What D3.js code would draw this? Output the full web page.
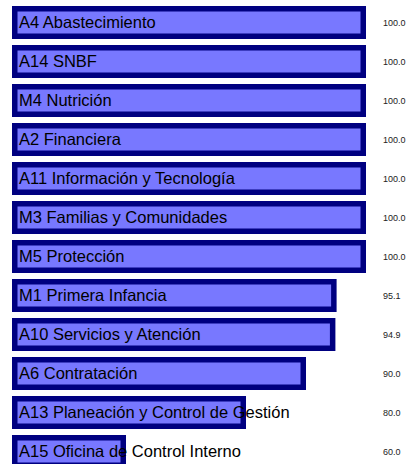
<!DOCTYPE html>
<html>
<head>
<meta charset="utf-8" />
<title>Cumplimiento por área</title>
<script src="https://d3js.org/d3.v7.min.js"></script>
<style>
html, body { margin: 0; padding: 0; background: #fff; }
svg { display: block; }
text { font-family: "Liberation Sans", Arial, sans-serif; }
</style>
</head>
<body>
<script>
let areas = ['A4 Abastecimiento', 'A14 SNBF', 'M4 Nutrición', 'A2 Financiera',
    'A11 Información y Tecnología', 'M3 Familias y Comunidades', 'M5 Protección',
    'M1 Primera Infancia', 'A10 Servicios y Atención', 'A6 Contratación',
    'A13 Planeación y Control de Gestión', 'A15 Oficina de Control Interno'];
let values = [100.0, 100.0, 100.0, 100.0, 100.0, 100.0, 100.0, 95.1, 94.9, 90.0, 80.0, 60.0];

let width = 407, height = 464;
let sw = 5.5; // border of the bars

let svg = d3.select('body').append('svg').attr('width', width).attr('height', height);

let x = d3.scaleLinear().domain([41, 100]).range([12, 366]);
let y = d3.scaleBand().domain(areas).range([6, 468]).paddingInner(6 / 39).paddingOuter(0);

let rows = svg.selectAll('g.row').data(areas).enter().append('g').attr('class', 'row')
    .attr('transform', d => 'translate(0,' + y(d) + ')');

rows.append('rect')
    .attr('x', x.range()[0] + sw / 2)
    .attr('y', sw / 2)
    .attr('width', (d, i) => x(values[i]) - x.range()[0] - sw)
    .attr('height', y.bandwidth() - sw)
    .attr('fill', '#7878ff')
    .attr('stroke', '#000080')
    .attr('stroke-width', sw);

rows.append('text')
    .attr('x', 19)
    .attr('y', y.bandwidth() / 2 + 5)
    .attr('font-size', '16.5px')
    .attr('fill', '#000')
    .text(d => d);

rows.append('text')
    .attr('x', 383)
    .attr('y', y.bandwidth() / 2 + 3)
    .attr('font-size', '9px')
    .attr('fill', '#222')
    .text((d, i) => d3.format('.1f')(values[i]));
</script>
</body>
</html>
